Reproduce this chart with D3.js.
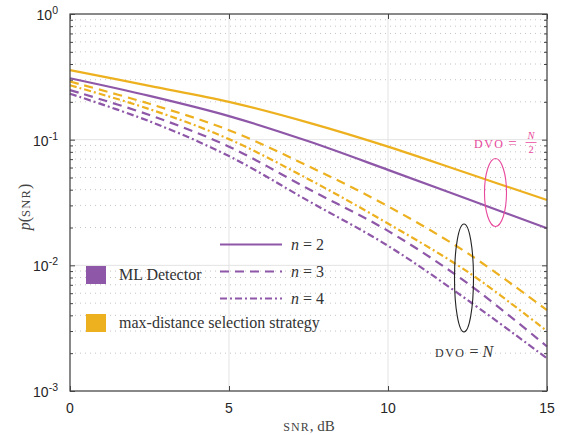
<!DOCTYPE html>
<html><head><meta charset="utf-8">
<script src="https://cdn.jsdelivr.net/npm/d3@7"></script>
<style>body{margin:0;background:#fff;} svg{display:block;}</style>
</head><body>
<script>
const snr = [0, 2.5, 5, 7.5, 10, 12.5, 15];
const mlN2 = [0.308, 0.223, 0.154, 0.097, 0.0575, 0.0337, 0.0197];
const mlN3 = [0.248, 0.157, 0.088, 0.0405, 0.0188, 0.0072, 0.00226];
const mlN4 = [0.232, 0.140, 0.074, 0.0325, 0.0143, 0.0053, 0.00182];
const mdN2 = [0.358, 0.268, 0.200, 0.1366, 0.088, 0.054, 0.0331];
const mdN3 = [0.290, 0.193, 0.119, 0.0615, 0.0295, 0.0125, 0.0044];
const mdN4 = [0.271, 0.175, 0.101, 0.0485, 0.0215, 0.0089, 0.0030];
const xTicks = [0, 5, 10, 15];
const yExps = [0, -1, -2, -3];
const legendLabels = ["ML Detector", "max-distance selection strategy"];
const nLabels = ["2", "3", "4"];

const W = 566, H = 435;
const m = {l: 70, r: 547, t: 14, b: 391};
const purple = "#8e57a8", yellow = "#edb120", pink = "#e8489c";
const dashes = {solid: null, dashed: "9,6", dashdot: "7,3,2,3"};

const svg = d3.select("body").append("svg").attr("width", W).attr("height", H);
const x = d3.scaleLinear().domain([0, 15]).range([m.l, m.r]);
const y = d3.scaleLog().domain([1e-3, 1]).range([m.b, m.t]);

// grids
const minor = [];
for (let e = -3; e < 0; e++) for (let k = 2; k <= 9; k++) minor.push(k * Math.pow(10, e));
svg.append("g").selectAll("line").data(minor).join("line")
  .attr("x1", m.l).attr("x2", m.r).attr("y1", d => y(d)).attr("y2", d => y(d))
  .attr("stroke", "#c4c4c4").attr("stroke-width", 1).attr("stroke-dasharray", "1,4");
svg.append("g").selectAll("line").data(yExps.map(e => Math.pow(10, e))).join("line")
  .attr("x1", m.l).attr("x2", m.r).attr("y1", d => y(d)).attr("y2", d => y(d))
  .attr("stroke", "#e3e3e3").attr("stroke-width", 1);
svg.append("g").selectAll("line").data(xTicks).join("line")
  .attr("x1", d => x(d)).attr("x2", d => x(d)).attr("y1", m.t).attr("y2", m.b)
  .attr("stroke", "#e3e3e3").attr("stroke-width", 1);

// series
const series = [
  {v: mdN2, c: yellow, d: "solid"}, {v: mlN2, c: purple, d: "solid"},
  {v: mdN3, c: yellow, d: "dashed"}, {v: mdN4, c: yellow, d: "dashdot"},
  {v: mlN3, c: purple, d: "dashed"}, {v: mlN4, c: purple, d: "dashdot"}
];
const line = d3.line().x(d => x(d[0])).y(d => y(d[1])).curve(d3.curveCatmullRom.alpha(0.5));
series.forEach(s => {
  svg.append("path").datum(snr.map((t, i) => [t, s.v[i]]))
    .attr("d", line).attr("fill", "none").attr("stroke", s.c).attr("stroke-width", 2.2)
    .attr("stroke-dasharray", dashes[s.d]);
});

// axes box
const axCol = "#444";
svg.append("rect").attr("x", m.l).attr("y", m.t).attr("width", m.r - m.l).attr("height", m.b - m.t)
  .attr("fill", "none").attr("stroke", axCol).attr("stroke-width", 1.2);
const yTickVals = yExps.map(e => Math.pow(10, e)).concat(minor);
const gL = svg.append("g").attr("transform", `translate(${m.l},0)`).call(d3.axisLeft(y).tickValues(yTickVals).tickFormat("").tickSizeInner(-5).tickSizeOuter(0));
const gR = svg.append("g").attr("transform", `translate(${m.r},0)`).call(d3.axisRight(y).tickValues(yTickVals).tickFormat("").tickSizeInner(-5).tickSizeOuter(0));
[gL, gR].forEach(g => { g.select(".domain").remove(); g.selectAll("line").attr("stroke", axCol)
  .attr("x2", function(d){ const big = yExps.some(e => Math.abs(Math.pow(10, e) - d) < 1e-12); const s = +d3.select(this).attr("x2"); return big ? s : s * 0.6; }); });
const gB = svg.append("g").attr("transform", `translate(0,${m.b})`).call(d3.axisBottom(x).tickValues(xTicks).tickFormat("").tickSizeInner(-5).tickSizeOuter(0));
const gT = svg.append("g").attr("transform", `translate(0,${m.t})`).call(d3.axisTop(x).tickValues(xTicks).tickFormat("").tickSizeInner(-5).tickSizeOuter(0));
[gB, gT].forEach(g => { g.select(".domain").remove(); g.selectAll("line").attr("stroke", axCol); });

// tick labels
const tickFont = "Liberation Sans, Arial, sans-serif";
svg.append("g").selectAll("text").data(xTicks).join("text")
  .attr("x", d => x(d)).attr("y", 413).attr("text-anchor", "middle")
  .attr("font-family", tickFont).attr("font-size", 14).attr("fill", "#262626").text(d => d);
const yl = svg.append("g").selectAll("text").data(yExps).join("text")
  .attr("x", 58).attr("y", d => y(Math.pow(10, d)) + 6).attr("text-anchor", "end")
  .attr("font-family", tickFont).attr("font-size", 14).attr("fill", "#262626");
yl.append("tspan").text("10");
yl.append("tspan").attr("dy", -6).attr("font-size", 10.5).text(d => d);

// axis labels
const serif = "Liberation Serif, Times New Roman, serif";
const xl = svg.append("text").attr("x", 309).attr("y", 431).attr("text-anchor", "middle")
  .attr("font-family", serif).attr("font-size", 15).attr("fill", "#444");
xl.append("tspan").attr("font-size", 12).attr("letter-spacing", 1).text("SNR");
xl.append("tspan").text(", dB");
const ylab = svg.append("text").attr("transform", "translate(30,207) rotate(-90)").attr("text-anchor", "middle")
  .attr("font-family", serif).attr("font-size", 16).attr("fill", "#444");
ylab.append("tspan").attr("font-style", "italic").text("p");
ylab.append("tspan").text("(");
ylab.append("tspan").attr("font-size", 12.5).attr("letter-spacing", 1.2).text("SNR");
ylab.append("tspan").text(")");

// legend
const legCols = [purple, yellow];
const legY = [266, 314];
svg.append("g").selectAll("rect").data(legendLabels).join("rect")
  .attr("x", 86).attr("y", (d, i) => legY[i]).attr("width", 20).attr("height", 18)
  .attr("fill", (d, i) => legCols[i]);
svg.append("g").selectAll("text").data(legendLabels).join("text")
  .attr("x", 119).attr("y", (d, i) => legY[i] + 14)
  .attr("font-family", serif).attr("font-size", 16).attr("fill", "#333").text(d => d);
const nY = [244.5, 271.5, 298.5];
const nD = ["solid", "dashed", "dashdot"];
svg.append("g").selectAll("line").data(nLabels).join("line")
  .attr("x1", 220).attr("x2", 282).attr("y1", (d, i) => nY[i]).attr("y2", (d, i) => nY[i])
  .attr("stroke", purple).attr("stroke-width", 2.2).attr("stroke-dasharray", (d, i) => dashes[nD[i]]);
const nt = svg.append("g").selectAll("text").data(nLabels).join("text")
  .attr("x", 291).attr("y", (d, i) => nY[i] + 5)
  .attr("font-family", serif).attr("font-size", 16).attr("fill", "#333");
nt.append("tspan").attr("font-style", "italic").text("n");
nt.append("tspan").text(d => " = " + d);

// annotations
svg.append("ellipse").attr("cx", 495.5).attr("cy", 192.5).attr("rx", 11).attr("ry", 34)
  .attr("fill", "none").attr("stroke", pink).attr("stroke-width", 1.1);
svg.append("ellipse").attr("cx", 464).attr("cy", 278).attr("rx", 9.5).attr("ry", 54)
  .attr("fill", "none").attr("stroke", "#222").attr("stroke-width", 1.1);
const a1 = svg.append("text").attr("x", 474).attr("y", 148).attr("font-family", serif)
  .attr("font-size", 15).attr("fill", pink);
a1.append("tspan").attr("font-size", 12).attr("letter-spacing", 1.5).text("DVO");
a1.append("tspan").text(" = ");
svg.append("text").attr("x", 531).attr("y", 139).attr("text-anchor", "middle").attr("font-family", serif)
  .attr("font-style", "italic").attr("font-size", 10.5).attr("fill", pink).text("N");
svg.append("line").attr("x1", 525.5).attr("x2", 536.5).attr("y1", 142.5).attr("y2", 142.5).attr("stroke", pink).attr("stroke-width", 0.8);
svg.append("text").attr("x", 531).attr("y", 152.5).attr("text-anchor", "middle").attr("font-family", serif)
  .attr("font-size", 10.5).attr("fill", pink).text("2");
const a2 = svg.append("text").attr("x", 435).attr("y", 357).attr("font-family", serif)
  .attr("font-size", 16).attr("fill", "#333");
a2.append("tspan").attr("font-size", 12).attr("letter-spacing", 1.5).text("DVO");
a2.append("tspan").text(" = ");
a2.append("tspan").attr("font-style", "italic").text("N");
</script>
</body></html>
